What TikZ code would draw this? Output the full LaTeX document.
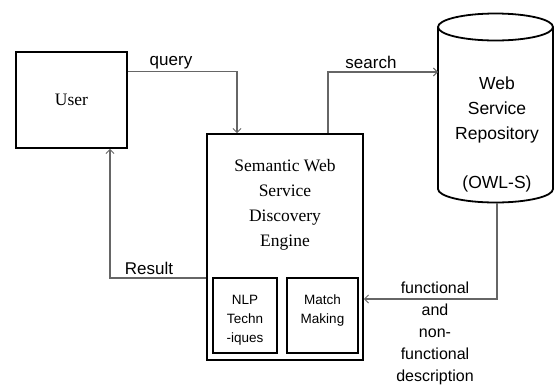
\documentclass[tikz,border=0pt]{standalone}
\usepackage{fontspec}
\setmainfont{Liberation Serif}
\setsansfont{Liberation Sans}
\usetikzlibrary{arrows.meta,calc}
\begin{document}
\begin{tikzpicture}[x=1pt,y=-1pt,
  box/.style={draw=black,line width=1.8pt,inner sep=0pt},
  conn/.style={draw=black!60,line width=1.1pt},
  arr/.style={conn,-{Straight Barb[length=4pt,width=8pt,line width=0.9pt]}},
  lbl/.style={font=\sffamily\fontsize{17}{20}\selectfont,inner sep=0pt}]
\useasboundingbox (0,0) rectangle (556,384);
% user
\node[box,minimum width=111pt,minimum height=96pt,font=\fontsize{17.5}{20}\selectfont] (user) at (71.5,100) {User};
% engine
\node[box,minimum width=156pt,minimum height=226pt] (engine) at (285,247) {};
\node[align=center,font=\fontsize{17.5}{25}\selectfont,inner sep=0pt] (enginetxt) at (285,205) {Semantic Web\\Service\\Discovery\\Engine};
\node[box,minimum width=64pt,minimum height=75pt] (nlp) at (245,315.5) {};
\node[align=center,font=\sffamily\fontsize{13.5}{19}\selectfont,inner sep=0pt] (nlptxt) at (245,320) {NLP\\Techn\\-iques};
\node[box,minimum width=71pt,minimum height=75pt] (match) at (322.5,315.5) {};
\node[align=center,font=\sffamily\fontsize{13.5}{19}\selectfont,inner sep=0pt] (matchtxt) at (322.5,310) {Match\\Making};
% repository cylinder
\draw[line width=1.8pt] (438,27) -- (438,189) arc[start angle=180,end angle=360,x radius=57.5pt,y radius=13.5pt] -- (553,27);
\draw[line width=1.8pt] (495.5,27) ellipse[x radius=57.5pt,y radius=13.5pt];
\coordinate (repoW) at (438,72);
\coordinate (repoS) at (497,202.5);
\node[align=center,font=\sffamily\fontsize{17.5}{25}\selectfont,inner sep=0pt] (repotxt) at (497,110) {Web\\Service\\Repository};
\node[font=\sffamily\fontsize{17.5}{20}\selectfont,inner sep=0pt] (owls) at (497,184) {(OWL-S)};
% connectors
\draw[arr] ([yshift=-20pt]user.north east) -| ([xshift=-48pt]engine.north);
\node[lbl] (querylbl) at (171,63) {query};
\draw[arr] ([xshift=43pt]engine.north) |- (repoW);
\node[lbl] (searchlbl) at (371,62) {search};
\draw[arr] ([yshift=-31pt]engine.west) -| ([xshift=38.5pt]user.south);
\node[lbl] (resultlbl) at (149,268) {Result};
\draw[arr] (repoS) |- ([yshift=-52pt]engine.east);
\node[lbl,align=center,anchor=north,font=\sffamily\fontsize{16}{22}\selectfont] (desc) at (435,282) {functional\\and\\non-\\functional\\description};
\end{tikzpicture}
\end{document}
